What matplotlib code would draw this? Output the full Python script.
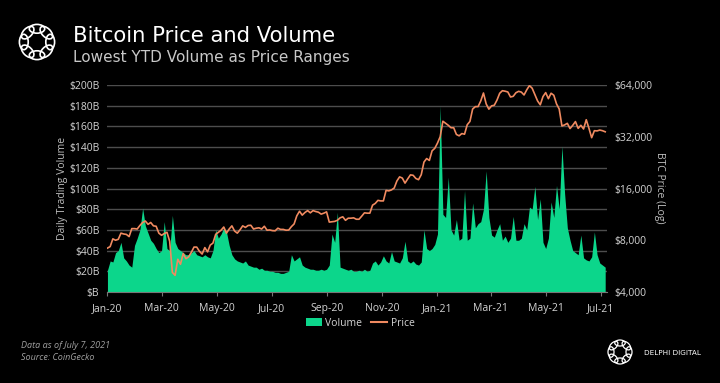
import numpy as np
import pandas as pd
import matplotlib
matplotlib.use("Agg")
import matplotlib.pyplot as plt
from matplotlib.patches import Ellipse, Patch
from matplotlib.lines import Line2D

# Bitcoin daily volume (USD bn) and price (USD), read every 3rd day from the chart
volume_bn = [
    21, 30, 29, 38, 40, 48, 33, 30, 26, 24, 45,        # Jan-20
    52, 60, 81, 64, 57, 50, 47, 42, 38, 40,            # Feb-20
    68, 42, 40, 74, 48, 42, 40, 38, 36, 36,            # Mar-20
    38, 40, 36, 35, 34, 36, 34, 33, 40, 60,            # Apr-20
    52, 56, 62, 58, 45, 36, 32, 30, 29, 28,            # May-20
    30, 26, 25, 24, 24, 22, 23, 21, 21, 20,            # Jun-20
    20, 19, 19, 18, 18, 19, 20, 36, 30, 32,            # Jul-20
    34, 26, 24, 23, 22, 22, 21, 21, 22, 21, 22,        # Aug-20
    26, 56, 48, 77, 24, 23, 22, 21, 22, 20,            # Sep-20
    20, 21, 20, 22, 20, 21, 28, 30, 26, 29,            # Oct-20
    35, 30, 28, 39, 30, 29, 28, 33, 49, 30,            # Nov-20
    28, 30, 27, 26, 29, 60, 42, 40, 42, 46,            # Dec-20
    56, 180, 75, 72, 111, 60, 55, 70, 50, 52, 98,      # Jan-21
    50, 52, 86, 62, 66, 68, 80, 117, 72, 55,           # Feb-21
    53, 60, 66, 50, 54, 48, 52, 73, 50, 50,            # Mar-21
    52, 66, 60, 82, 80, 102, 70, 90, 48, 42,           # Apr-21
    52, 87, 72, 103, 80, 141, 95, 62, 50, 40,          # May-21
    38, 36, 55, 33, 31, 30, 34, 58, 36, 28,            # Jun-21
    26, 24,                                            # Jul-21
]

price_usd = [
    7200, 7350, 8150, 8000, 8100, 8800, 8700, 8650, 8400, 9350, 9350,
    9300, 9750, 10150, 10350, 9900, 10150, 9700, 9650, 8800, 8550,
    8750, 8900, 7900, 5200, 5000, 6200, 5800, 6700, 6250, 6400,
    6800, 7300, 7300, 6900, 6650, 7250, 6850, 7500, 7700, 8650,
    8900, 9150, 9550, 8800, 9300, 9700, 9050, 8800, 9200, 9700,
    9500, 9750, 9780, 9300, 9400, 9450, 9300, 9650, 9150, 9180,
    9100, 9080, 9400, 9250, 9250, 9150, 9170, 9600, 9950, 11100,
    11800, 11200, 11600, 11900, 11550, 11900, 11750, 11650, 11350, 11500, 11700,
    10200, 10250, 10300, 10450, 10800, 10950, 10450, 10750, 10750, 10800,
    10600, 10600, 11050, 11550, 11500, 11500, 12800, 13100, 13650, 13550,
    13550, 15600, 15500, 15700, 16100, 17700, 18700, 18400, 17200, 18200,
    19200, 19100, 18300, 18000, 19250, 22800, 23900, 23300, 26500, 27400,
    29400, 32000, 39400, 38300, 37300, 36100, 36100, 33000, 32400, 33400, 33100,
    37600, 39300, 46400, 47900, 47900, 51700, 57500, 49700, 46300, 48400,
    48800, 52300, 57300, 59300, 58900, 58300, 54500, 55000, 57700, 58800,
    58200, 56000, 60000, 63500, 61300, 56200, 51700, 49100, 54800, 57800,
    53300, 57300, 55800, 49700, 46400, 37000, 37500, 38300, 35700, 37300,
    39200, 35800, 37300, 35500, 40200, 35800, 31600, 34700, 34600, 35000,
    34700, 34200,
]

dates = pd.date_range("2020-01-01", periods=len(volume_bn), freq="3D")

volume_ticks = [0, 20, 40, 60, 80, 100, 120, 140, 160, 180, 200]
price_ticks = [4000, 8000, 16000, 32000, 64000]
month_ticks = pd.date_range("2020-01-01", "2021-07-01", freq="2MS")

GREEN = "#0cd68b"
ORANGE = "#f08a60"
GRID = "#4d4d4d"
LABEL = "#d4d4d4"
SMALL = ["Open Sans", "DejaVu Sans"]

W, H = 720, 383
fig = plt.figure(figsize=(7.2, 3.83), dpi=100, facecolor="black")


def fx(px):
    return px / W


def fy(py):
    return 1 - py / H


ax = fig.add_axes([fx(107), fy(292), fx(607) - fx(107), fy(85) - fy(292)])
ax.set_facecolor("black")
ax.fill_between(dates, volume_bn, color=GREEN, linewidth=0, zorder=2)
ax.set_ylim(0, 200)
ax.set_yticks(volume_ticks)
ax.set_yticklabels(["$%dB" % v if v else "$B" for v in volume_ticks], family=SMALL)
ax.set_xlim(pd.Timestamp("2019-12-31 12:00"), pd.Timestamp("2021-07-08"))
ax.set_xticks(month_ticks)
ax.set_xticklabels([d.strftime("%b-%y") for d in month_ticks], family=SMALL)
ax.grid(axis="y", color=GRID, linewidth=1, zorder=0)
ax.tick_params(axis="y", length=0, colors=LABEL, labelsize=7.5, pad=5.5)
ax.tick_params(axis="x", length=3, color="#777777", colors=LABEL, labelsize=7.5, pad=5)
for side in ["top", "left", "right"]:
    ax.spines[side].set_visible(False)
ax.spines["bottom"].set_color("#777777")

ax2 = ax.twinx()
ax2.plot(dates, price_usd, color=ORANGE, linewidth=1.2, zorder=3)
ax2.set_yscale("log", base=2)
ax2.set_ylim(4000, 64000)
ax2.set_yticks(price_ticks)
ax2.set_yticklabels(["${:,}".format(p) for p in price_ticks], family=SMALL)
ax2.minorticks_off()
ax2.tick_params(axis="y", length=0, colors=LABEL, labelsize=7.5, pad=5.5)
for side in ["top", "left", "right", "bottom"]:
    ax2.spines[side].set_visible(False)

fig.text(fx(63), fy(188), "Daily Trading Volume", rotation=90, color="#bdbdbd",
         fontsize=7.5, family=SMALL, ha="center", va="center")
fig.text(fx(659), fy(188), "BTC Price (Log)", rotation=270, color="#bdbdbd",
         fontsize=7.5, family=SMALL, ha="center", va="center")

# titles
fig.text(fx(73), fy(42), "Bitcoin Price and Volume", color="white",
         fontsize=15.2, ha="left", va="baseline")
fig.text(fx(73), fy(62), "Lowest YTD Volume as Price Ranges", color="#c8c8c8",
         fontsize=11, ha="left", va="baseline")

# legend
handles = [Patch(facecolor=GREEN, edgecolor="none"),
           Line2D([], [], color=ORANGE, linewidth=1.5)]
fig.legend(handles, ["Volume", "Price"], loc="center", bbox_to_anchor=(0.5, fy(323)),
           ncol=2, frameon=False, prop={"family": SMALL, "size": 7.5}, labelcolor=LABEL,
           handlelength=1.6, handletextpad=0.3, columnspacing=0.8)

# footnote
fig.text(fx(21), fy(346), "Data as of July 7, 2021", color="#a0a0a0", fontsize=6.5,
         family=SMALL, style="italic", ha="left", va="center")
fig.text(fx(21), fy(357), "Source: CoinGecko", color="#a0a0a0", fontsize=6.5,
         family=SMALL, style="italic", ha="left", va="center")


def draw_logo(cx, cy, r, lw):
    lax = fig.add_axes([fx(cx - r), fy(cy + r), fx(2 * r), fy(0) - fy(2 * r)])
    lax.set_xlim(-1, 1)
    lax.set_ylim(-1, 1)
    lax.axis("off")
    for k in range(8):
        a = k * np.pi / 4
        lax.add_patch(Ellipse((0.6 * np.cos(a), 0.6 * np.sin(a)), width=0.7, height=0.4,
                              angle=np.degrees(a) + 90, fill=False, edgecolor="white",
                              linewidth=lw))


draw_logo(37, 42, 22, 1.2)
draw_logo(620, 352, 15, 0.9)
fig.text(fx(644), fy(353), "DELPHI DIGITAL", color="white", fontsize=5.2,
         ha="left", va="center")

fig.savefig("out.png", dpi=100, facecolor="black")
